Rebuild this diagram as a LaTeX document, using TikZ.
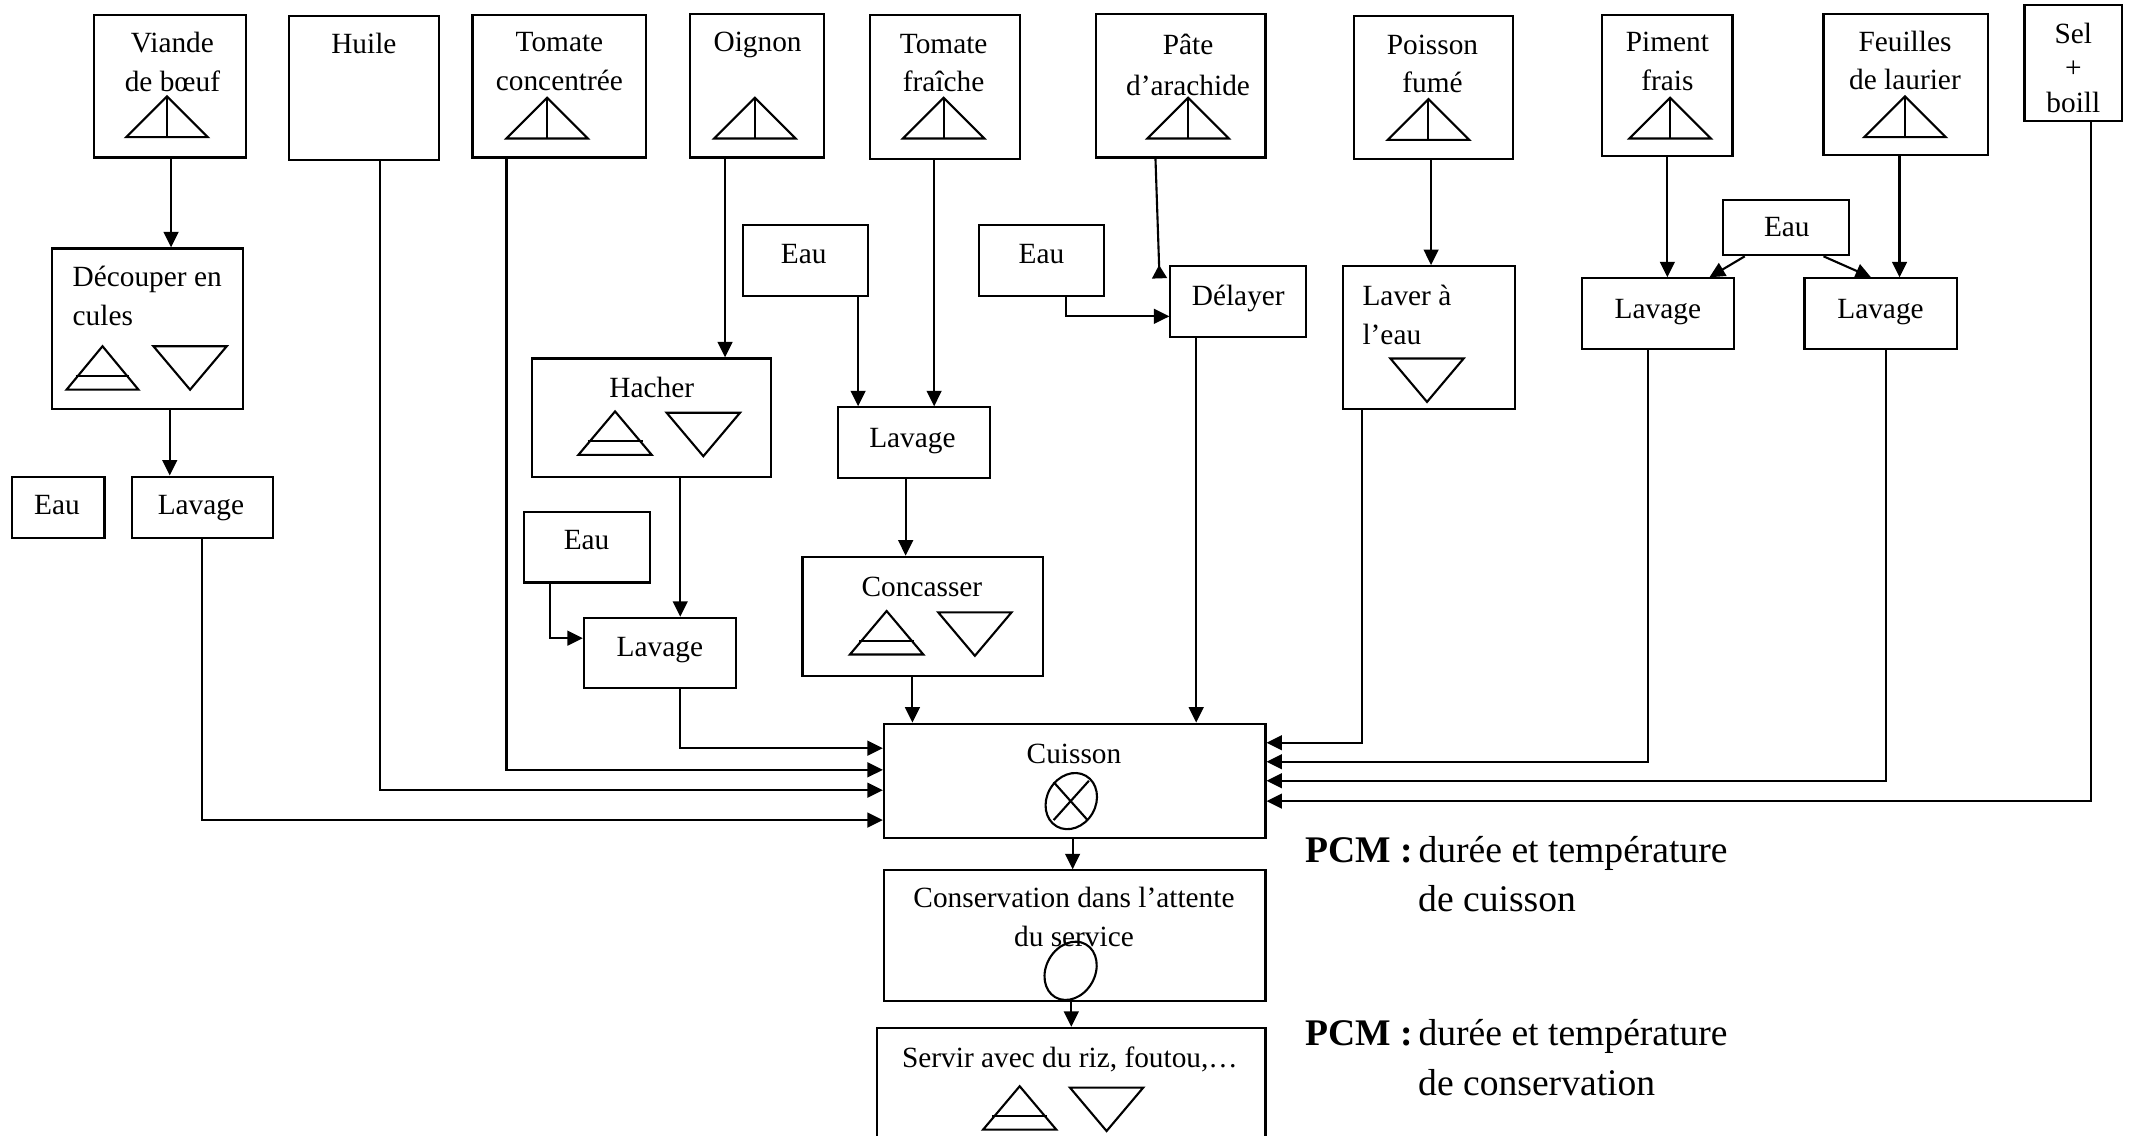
\documentclass[tikz,border=0pt]{standalone}
\usepackage{fontspec}
\setmainfont{Liberation Serif}
\usetikzlibrary{arrows.meta}

\tikzset{
	box/.style={draw,line width=0.6pt,inner sep=0pt},
	size/.style 2 args={minimum width=#1*0.01358cm,minimum height=#2*0.01358cm},
	lbl/.style={inner sep=0pt,align=center,font=\fontsize{8.35}{11}\selectfont},
	pcm/.style={inner sep=0pt,anchor=base west,font=\fontsize{10.7}{14}\selectfont},
	flow/.style={draw,line width=0.6pt,-{Triangle[length=4.4pt,width=4.2pt]}},
	flowback/.style={draw,line width=0.6pt,-{Triangle[reversed,length=3.8pt,width=4.2pt]}},
	sym/.style={draw,line width=0.6pt},
}

% triangles des operations
\newcommand{\cueil}[3]{\draw [sym] (#1,#3)--(#2,#3)--({(#1+#2)/2},#3-30)--cycle; \draw [sym] ({(#1+#2)/2},#3-30)--({(#1+#2)/2},#3);}
\newcommand{\trimontant}[3]{\draw [sym] (#1,#3)--(#2,#3)--({(#1+#2)/2},#3-32)--cycle; \draw [sym] ({#1+(#2-#1)*0.125},#3-10)--({#2-(#2-#1)*0.125},#3-10);}
\newcommand{\tridescendant}[3]{\draw [sym] (#1,#3)--(#2,#3)--({(#1+#2)/2},#3+32)--cycle;}

\begin{document}
\begin{tikzpicture}[x=0.01358cm,y=-0.01358cm]

		\useasboundingbox (0,0) rectangle (1568,836);

		% ingredients
		\node [box,size={112}{105}] (viande) at (125,63.5) {};
		\node [box,size={110}{106}] (huile) at (268,65) {};
		\node [box,size={128}{105}] (concentree) at (412,63.5) {};
		\node [box,size={99}{106}] (oignon) at (557.5,63) {};
		\node [box,size={110}{106}] (fraiche) at (696,64) {};
		\node [box,size={125}{106}] (arachide) at (869.5,63) {};
		\node [box,size={117}{105}] (poisson) at (1055.5,64.5) {};
		\node [box,size={96}{104}] (piment) at (1228,63) {};
		\node [box,size={121}{104}] (laurier) at (1403.5,62) {};
		\node [box,size={72}{85}] (sel) at (1527,46.5) {};

		\node [lbl] (viandet) at (127,45.5) {Viande\\de bœuf};
		\node [lbl] (huilet) at (268,32) {Huile};
		\node [lbl] (concentreet) at (412,45.5) {Tomate\\concentrée};
		\node [lbl] (oignont) at (558,33) {Oignon};
		\node [lbl] (fraichet) at (695,46.5) {Tomate\\fraîche};
		\node [lbl,font=\fontsize{8.35}{11.6}\selectfont] (arachidet) at (875,48) {Pâte\\d’arachide};
		\node [lbl] (poissont) at (1055,47) {Poisson\\fumé};
		\node [lbl] (pimentt) at (1228,45) {Piment\\frais};
		\node [lbl] (lauriert) at (1403,44.5) {Feuilles\\de laurier};
		\node [lbl,font=\fontsize{8.35}{9.7}\selectfont] (selt) at (1527,50) {Sel\\+\\boill};

		\cueil{93}{153}{101}
		\cueil{373}{433}{102}
		\cueil{526}{586}{102}
		\cueil{665}{725}{102}
		\cueil{845}{905}{102}
		\cueil{1022}{1082}{103}
		\cueil{1200}{1260}{102}
		\cueil{1373}{1433}{101}

		% preparation
		\node [box,size={141}{118}] (decouper) at (108.5,242) {};
		\node [box,size={104}{45}] (lavagea) at (149,373.5) {};
		\node [box,size={68}{45}] (eaua) at (43,373.5) {};
		\node [box,size={176}{87}] (hacher) at (480,307.5) {};
		\node [box,size={93}{52}] (eaub) at (432.5,403) {};
		\node [box,size={112}{52}] (lavageb) at (486,481) {};
		\node [box,size={92}{52}] (eauc) at (593,192) {};
		\node [box,size={112}{52}] (lavagec) at (673,326) {};
		\node [box,size={177}{88}] (concasser) at (679.5,454) {};
		\node [box,size={92}{52}] (eaud) at (767,192) {};
		\node [box,size={100}{52}] (delayer) at (912,222) {};
		\node [box,size={127}{105}] (laver) at (1052.5,248.5) {};
		\node [box,size={93}{41}] (eaue) at (1315.5,167.5) {};
		\node [box,size={112}{52}] (lavaged) at (1221,231) {};
		\node [box,size={112}{52}] (lavagee) at (1385,231) {};

		\node [lbl,align=left,anchor=west] (decoupert) at (53,218) {Découper en\\cules};
		\node [lbl] (lavageat) at (148,374.5) {Lavage};
		\node [lbl] (eauat) at (42,372) {Eau};
		\node [lbl] (hachert) at (480,285) {Hacher};
		\node [lbl] (eaubt) at (432,398) {Eau};
		\node [lbl] (lavagebt) at (486,479) {Lavage};
		\node [lbl] (eauct) at (592,187) {Eau};
		\node [lbl] (lavagect) at (672,324.5) {Lavage};
		\node [lbl] (concassert) at (679,432) {Concasser};
		\node [lbl] (eaudt) at (767,187) {Eau};
		\node [lbl] (delayert) at (912,220) {Délayer};
		\node [lbl,align=left,anchor=west] (lavert) at (1003,232) {Laver à\\l’eau};
		\node [lbl] (eauet) at (1316,167) {Eau};
		\node [lbl] (lavagedt) at (1221,229.5) {Lavage};
		\node [lbl] (lavageet) at (1385,229.5) {Lavage};

		\trimontant{49}{102}{287}
		\tridescendant{113}{167}{255}
		\trimontant{426}{480}{335}
		\tridescendant{491}{545}{304}
		\trimontant{626}{680}{482}
		\tridescendant{691}{745}{451}
		\tridescendant{1024}{1078}{264}

		% cuisson et service
		\node [box,size={281}{84}] (cuisson) at (791.5,575) {};
		\node [box,size={281}{96}] (conservation) at (791.5,689) {};
		\node [box,size={286}{100}] (servir) at (789,807) {};

		\node [lbl] (cuissont) at (791,555) {Cuisson};
		\node [lbl] (conservationt) at (791,675.5) {Conservation dans l’attente\\du service};
		\node [lbl] (servirt) at (788,780) {Servir avec du riz, foutou,…};

		\draw [sym,rotate around={-30:(789,590)}] (789,590) ellipse (18 and 21.5);
		\draw [sym] (776,604)--(802,575);
		\draw [sym] (776,576)--(801,604);
		\draw [sym,rotate around={-30:(788.5,715)}] (788.5,715) ellipse (18 and 22.5);
		\trimontant{724}{778}{832}
		\tridescendant{788}{842}{801}

		\node [pcm] (pcma) at (961,635) {\textbf{PCM :}\hspace{-1.1pt} durée et température};
		\node [pcm] (pcmat) at (1044,671) {de cuisson};
		\node [pcm] (pcmb) at (961,770) {\textbf{PCM :}\hspace{-1.1pt} durée et température};
		\node [pcm] (pcmbt) at (1044,807) {de conservation};

		% fleches
		\coordinate (delayerin) at (854,205);
		\draw [flow] (126,0 |- viande.south)--(126,0 |- decouper.north);
		\draw [flow] (125,0 |- decouper.south)--(125,0 |- lavagea.north);
		\draw [flow] (534,0 |- oignon.south)--(534,0 |- hacher.north);
		\draw [flow] (501,0 |- hacher.south)--(501,0 |- lavageb.north);
		\draw [flow] (405,0 |- eaub.south) |- (lavageb.west |- 0,470);
		\draw [flow] (632,0 |- eauc.south)--(632,0 |- lavagec.north);
		\draw [flow] (688,0 |- fraiche.south)--(688,0 |- lavagec.north);
		\draw [flow] (667,0 |- lavagec.south)--(667,0 |- concasser.north);
		\draw [flowback] (851,0 |- arachide.south)--(delayerin);
		\draw [flow] (785,0 |- eaud.south) |- (delayer.west |- 0,233);
		\draw [flow] (1054,0 |- poisson.south)--(1054,0 |- laver.north);
		\draw [flow] (1228,0 |- piment.south)--(1228,0 |- lavaged.north);
		\draw [flow] (1399,0 |- laurier.south)--(1399,0 |- lavagee.north);
		\draw [flow] (1285,0 |- eaue.south)--(1259,0 |- lavaged.north);
		\draw [flow] (1343,0 |- eaue.south)--(1378,0 |- lavagee.north);

		\draw [flow] (672,0 |- concasser.south)--(672,0 |- cuisson.north);
		\draw [flow] (881,0 |- delayer.south)--(881,0 |- cuisson.north);
		\draw [flow] (149,0 |- lavagea.south) |- (cuisson.west |- 0,604);
		\draw [flow] (280,0 |- huile.south) |- (cuisson.west |- 0,582);
		\draw [flow] (373,0 |- concentree.south) |- (cuisson.west |- 0,567);
		\draw [flow] (501,0 |- lavageb.south) |- (cuisson.west |- 0,551);
		\draw [flow] (1003,0 |- laver.south) |- (cuisson.east |- 0,547);
		\draw [flow] (1214,0 |- lavaged.south) |- (cuisson.east |- 0,561);
		\draw [flow] (1389,0 |- lavagee.south) |- (cuisson.east |- 0,575);
		\draw [flow] (1540,0 |- sel.south) |- (cuisson.east |- 0,590);
		\draw [flow] (790,0 |- cuisson.south)--(790,0 |- conservation.north);
		\draw [flow] (789,0 |- conservation.south)--(789,0 |- servir.north);

\end{tikzpicture}
\end{document}
